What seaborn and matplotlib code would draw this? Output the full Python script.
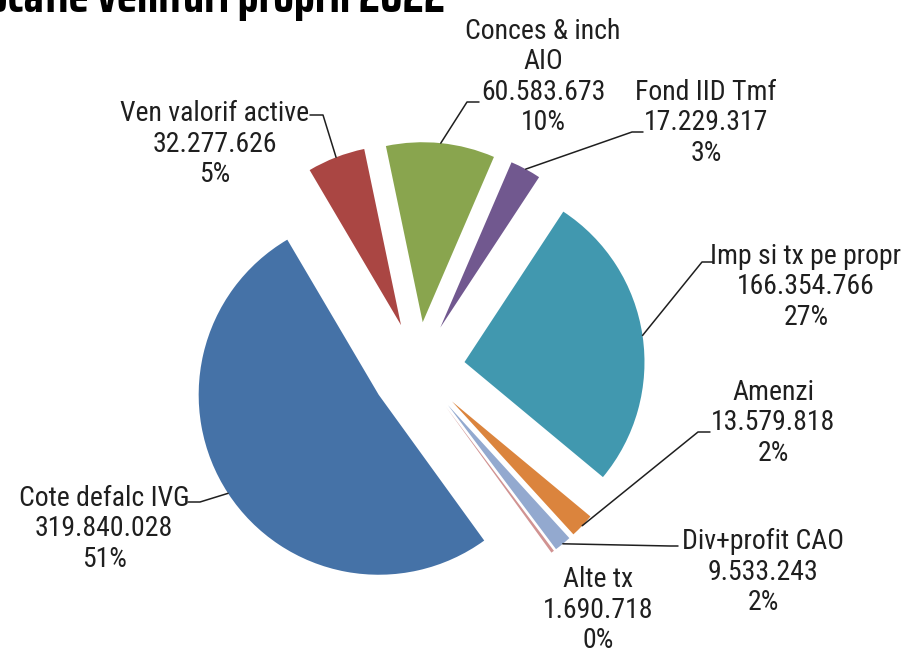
import numpy as np
import matplotlib
matplotlib.use("Agg")
import matplotlib.pyplot as plt
import seaborn as sns

# date
categorii = ["Cote defalc IVG", "Ven valorif active", "Conces & inch\nAIO", "Fond IID Tmf",
             "Imp si tx pe propr", "Amenzi", "Div+profit CAO", "Alte tx"]
valori = [319840028, 32277626, 60583673, 17229317, 166354766, 13579818, 9533243, 1690718]
culori = ["#4572A7", "#AA4643", "#89A54E", "#71588F", "#4198AF", "#DB843D", "#93A9CF", "#D19392"]
titlu = "Alocatie venituri proprii 2022"

# layout (pixeli, y de sus)
W, H = 906, 655
centru = (418, 369)
raza = 180
exploz = 47
pozitii_text = [(104, 529), (215, 144), (543, 77), (706, 123), (806, 287), (773, 423), (763, 572), (598, 610)]
leadere = [[(200, 502), (188, 502)], [(323, 115), (310, 115)], [(467, 102), (479, 102)],
           [(632, 132), (643, 132)], [(702, 262), (713, 262)], [(698, 432), (710, 432)],
           [(670, 546), (678, 546)], None]

sns.set_theme(style="white")
fonturi = ["Roboto Condensed", "Archivo Narrow", "Liberation Sans", "DejaVu Sans"]
plt.rcParams["font.family"] = fonturi

fig = plt.figure(figsize=(W / 100, H / 100), dpi=100)
ax = fig.add_axes([0, 0, 1, 1])

paleta = sns.color_palette(culori)
wedges, _ = ax.pie(valori, colors=paleta, startangle=-54.1, counterclock=False,
                   radius=raza, center=(centru[0], H - centru[1]),
                   explode=[exploz] * len(valori), frame=True,
                   wedgeprops=dict(linewidth=0, antialiased=True))
ax.set_xlim(0, W)
ax.set_ylim(0, H)
ax.set_aspect("equal")
ax.axis("off")

total = sum(valori)
for w, nume, v, (tx, ty), ld in zip(wedges, categorii, valori, pozitii_text, leadere):
    pct = round(v / total * 100)
    txt = f"{nume}\n{v:,}".replace(",", ".") + f"\n{pct}%"
    ax.text(tx, H - ty, txt, ha="center", va="center", fontsize=20,
            linespacing=1.16, color="#1f1f1f")
    if ld is not None:
        mid = np.deg2rad((w.theta1 + w.theta2) / 2)
        px = w.center[0] + w.r * np.cos(mid)
        py = w.center[1] + w.r * np.sin(mid)
        xs = [px] + [p[0] for p in ld]
        ys = [py] + [H - p[1] for p in ld]
        ax.plot(xs, ys, color="#1f1f1f", lw=1.1)

fig.text(445 / W, 1 - 12 / H, titlu, ha="right", va="baseline", fontsize=34,
         fontweight="bold", color="black", family=["Saira Condensed", "Oswald", "DejaVu Sans"])

fig.savefig("out.png", dpi=100)
